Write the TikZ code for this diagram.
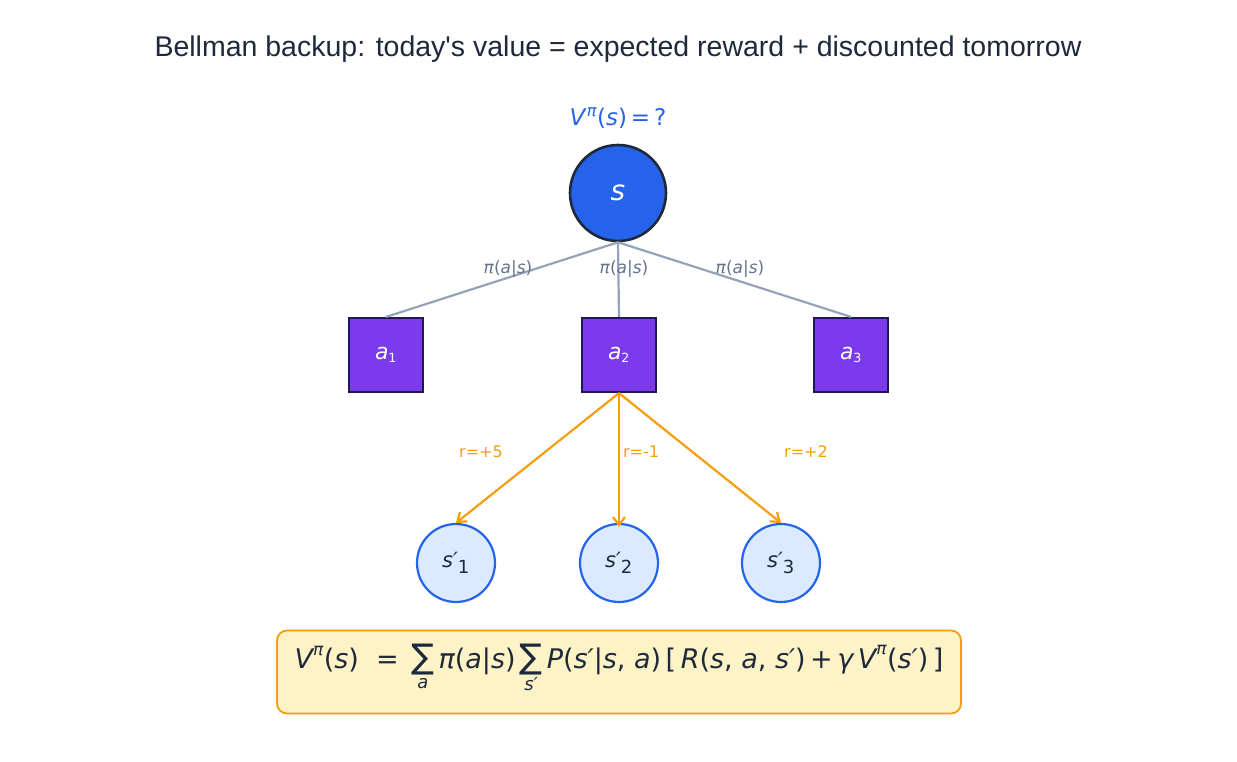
\documentclass[tikz,border=0pt]{standalone}
\usepackage{fontspec}
\setmainfont{DejaVu Sans}
\newfontfamily\titlefont{Liberation Sans}
\usetikzlibrary{arrows.meta}
\definecolor{dark}{HTML}{1E293B}
\definecolor{blu}{HTML}{2563EB}
\definecolor{gry}{HTML}{94A3B8}
\definecolor{gryt}{HTML}{64748B}
\definecolor{purp}{HTML}{7C3AED}
\definecolor{purd}{HTML}{1E1B4B}
\definecolor{orng}{HTML}{F59E0B}
\definecolor{lblu}{HTML}{DBEAFE}
\definecolor{lyel}{HTML}{FEF3C7}
\newcommand{\fs}[1]{\fontsize{#1}{#1}\selectfont}
\newcommand{\mysum}[1]{\mathop{\hbox{\fs{34}∑}}\limits_{\raisebox{-7pt}{\fs{18}\itshape #1}}}
\begin{document}
\begin{tikzpicture}[x=1pt,y=-1pt,
  act/.style={draw=purd,line width=2.2pt,fill=purp,minimum size=74pt,inner sep=0,text=white,font=\fs{22}\itshape},
  nxt/.style={circle,draw=blu,line width=2.2pt,fill=lblu,minimum size=78pt,inner sep=0,text=dark,font=\fs{21}\itshape},
  pol/.style={draw=gry,line width=2.2pt},
  tr/.style={draw=orng,line width=2.2pt,-{Straight Barb[length=8pt,width=12pt]}},
  pl/.style={text=gryt,font=\fs{17}},
  rl/.style={text=orng,font=\fs{16}}]
\useasboundingbox (0,0) rectangle (1237,762);
\node[text=dark,font=\titlefont\fs{28.5}] (title) at (618,49) {Bellman backup: today's value = expected reward + discounted tomorrow};
\node[text=blu,font=\fs{23}] (q) at (618,118) {\textit{V}\textsuperscript{\textit{π}}(\textit{s})\,=\,?};
\node[circle,draw=dark,line width=2.6pt,fill=blu,minimum size=96pt,inner sep=0,text=white,font=\fs{28}\itshape] (s) at (618,193) {s};
\node[act] (a1) at (386,355) {a\fs{18}\textsubscript{\upshape 1}};
\node[act] (a2) at (619,355) {a\fs{18}\textsubscript{\upshape 2}};
\node[act] (a3) at (851,355) {a\fs{18}\textsubscript{\upshape 3}};
\draw[pol] (s.south) -- (a1.north);
\draw[pol] (s.south) -- (a2.north);
\draw[pol] (s.south) -- (a3.north);
\node[pl] (p1) at (508,269) {\textit{π}(\textit{a}|\textit{s})};
\node[pl] (p2) at (624,269) {\textit{π}(\textit{a}|\textit{s})};
\node[pl] (p3) at (740,269) {\textit{π}(\textit{a}|\textit{s})};
\node[nxt] (n1) at (456,563) {s′\textsubscript{\upshape\fs{18}1}};
\node[nxt] (n2) at (619,563) {s′\textsubscript{\upshape\fs{18}2}};
\node[nxt] (n3) at (781,563) {s′\textsubscript{\upshape\fs{18}3}};
\draw[tr] (a2.south) -- (n1.north);
\draw[tr] (a2.south) -- ([yshift=-4pt]n2.north);
\draw[tr] (a2.south) -- (n3.north);
\node[rl] (r1) at (481,452) {r=+5};
\node[rl] (r2) at (641,452) {r=-1};
\node[rl] (r3) at (806,452) {r=+2};
\node[draw=orng,line width=1.8pt,fill=lyel,rounded corners=10pt,minimum width=684pt,minimum height=83pt] (box) at (619,672) {};
\node[text=dark,font=\fs{27}] (f) at (619,668) {$\hbox{\itshape V}^{\hbox{\fs{17}\itshape π}}\hbox{(\itshape s\upshape)\ \ =\ }\mysum{a}\hbox{\itshape π\upshape(\itshape a\upshape|\itshape s\upshape)}\mysum{s′}\hbox{\itshape P\upshape(\itshape s′\upshape|\itshape s\upshape, \itshape a\upshape)\,[\,\itshape R\upshape(\itshape s\upshape, \itshape a\upshape, \itshape s′\upshape)\,+\,\itshape γ\,V}^{\hbox{\fs{17}\itshape π}}\hbox{(\itshape s′\upshape)\,]}$};
\end{tikzpicture}
\end{document}
